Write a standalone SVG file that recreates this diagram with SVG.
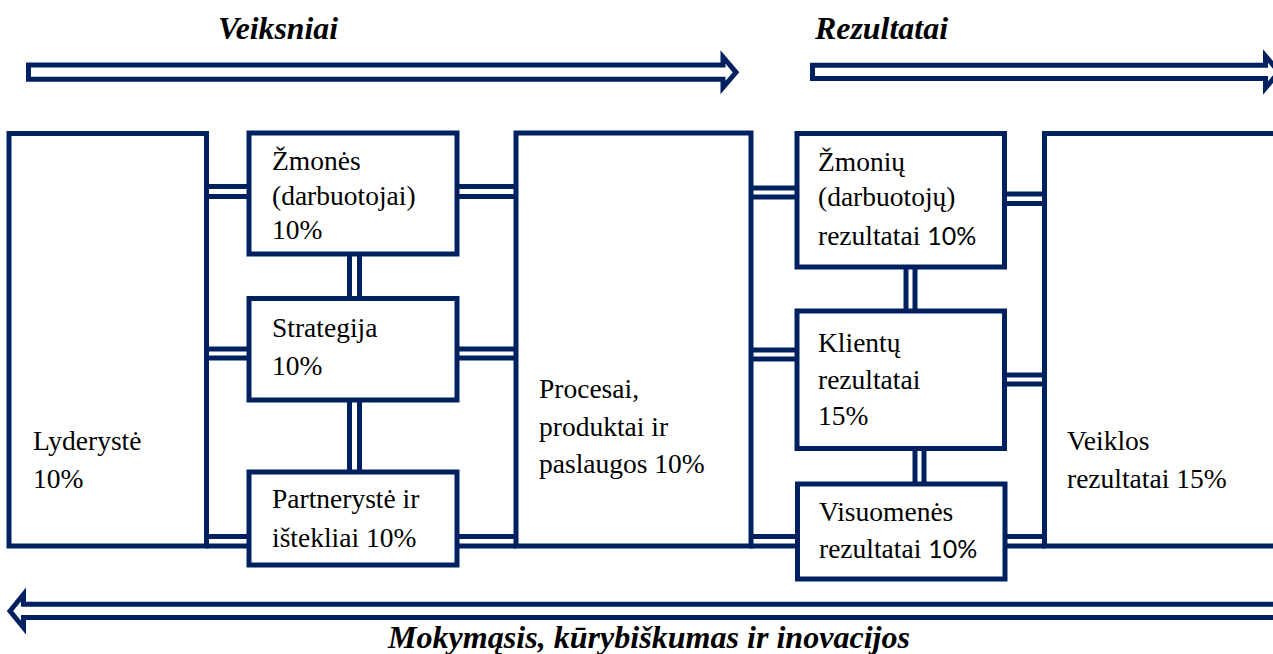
<svg xmlns="http://www.w3.org/2000/svg" width="1273" height="654" viewBox="0 0 1273 654">
<style>
.b{fill:#fff;stroke:#002060;stroke-width:5}
.c{fill:none;stroke:#002060;stroke-width:5}
.a{fill:#fff;stroke:#002060;stroke-width:5;stroke-linejoin:miter;stroke-miterlimit:10}
.t{font-family:"Liberation Serif","Times New Roman",serif;font-size:27.5px;fill:#000}
.h{font-family:"Liberation Serif","Times New Roman",serif;font-size:32px;font-weight:bold;font-style:italic;fill:#000}
.s{font-family:Lato,"Liberation Sans",sans-serif;font-size:25px}
</style>
<rect width="1273" height="654" fill="#fff"/>
<g id="arrows">
<polygon class="a" points="28.5,65 723,65 723,57 736,72.3 723,87.5 723,79.3 28.5,79.3"/>
<polygon class="a" points="812.5,65.2 1265.5,65.2 1265.5,56 1279,72 1265.5,88 1265.5,78.5 812.5,78.5"/>
<polygon class="a" points="10,611 23.5,594.5 23.5,604.2 1290,604.2 1290,617.5 23.5,617.5 23.5,627.5"/>
<text class="h" x="218" y="39" textLength="120" lengthAdjust="spacingAndGlyphs">Veiksniai</text>
<text class="h" x="815" y="39" textLength="133" lengthAdjust="spacingAndGlyphs">Rezultatai</text>
<text class="h" x="388" y="648" textLength="522" lengthAdjust="spacingAndGlyphs">Mokymąsis, kūrybiškumas ir inovacijos</text>
</g>
<g id="connectors">
<path class="c" d="M206,186.5H250M206,196.5H250"/>
<path class="c" d="M456,186.5H517M456,196.5H517"/>
<path class="c" d="M206,349H250M206,358H250"/>
<path class="c" d="M456,349H517M456,358H517"/>
<path class="c" d="M206,536.5H250M206,546H250"/>
<path class="c" d="M456,536.5H517M456,546H517"/>
<path class="c" d="M349.5,254V299M359.5,254V299"/>
<path class="c" d="M349.5,400V472M359.5,400V472"/>
<path class="c" d="M750,188H798M750,197H798"/>
<path class="c" d="M750,350H798M750,359H798"/>
<path class="c" d="M750,536.5H798M750,546H798"/>
<path class="c" d="M1004,194H1045M1004,203.5H1045"/>
<path class="c" d="M1004,375H1045M1004,384H1045"/>
<path class="c" d="M1004,536.5H1045M1004,546H1045"/>
<path class="c" d="M906,267V311M915,267V311"/>
<path class="c" d="M915,448V484M924,448V484"/>
</g>
<g id="lyderyste">
<rect class="b" x="9" y="133.5" width="197.5" height="412.5"/>
<text class="t" x="33" y="450">Lyderystė</text>
<text class="t" x="33" y="488">10%</text>
</g>
<g id="zmones">
<rect class="b" x="249" y="133" width="208" height="121"/>
<text class="t" x="272" y="170">Žmonės</text>
<text class="t" x="272" y="205">(darbuotojai)</text>
<text class="t" x="272" y="239">10%</text>
</g>
<g id="strategija">
<rect class="b" x="249" y="298.5" width="208" height="101.5"/>
<text class="t" x="272" y="337">Strategija</text>
<text class="t" x="272" y="375">10%</text>
</g>
<g id="partneryste">
<rect class="b" x="249" y="472" width="208" height="93"/>
<text class="t" x="272" y="508">Partnerystė ir</text>
<text class="t" x="272" y="547">ištekliai 10%</text>
</g>
<g id="procesai">
<rect class="b" x="516" y="133" width="235" height="413"/>
<text class="t" x="539" y="398">Procesai,</text>
<text class="t" x="539" y="436">produktai ir</text>
<text class="t" x="539" y="473">paslaugos 10%</text>
</g>
<g id="zmoniu">
<rect class="b" x="797" y="133.5" width="207.5" height="133.5"/>
<text class="t" x="818" y="171">Žmonių</text>
<text class="t" x="818" y="206">(darbuotojų)</text>
<text class="t" x="818" y="245">rezultatai <tspan class="s">10%</tspan></text>
</g>
<g id="klientu">
<rect class="b" x="797" y="311" width="207.5" height="137.5"/>
<text class="t" x="818" y="352">Klientų</text>
<text class="t" x="818" y="389">rezultatai</text>
<text class="t" x="818" y="425">15%</text>
</g>
<g id="visuomenes">
<rect class="b" x="797.5" y="484" width="207.5" height="95"/>
<text class="t" x="819" y="521">Visuomenės</text>
<text class="t" x="819" y="558">rezultatai <tspan class="s">10%</tspan></text>
</g>
<g id="veiklos">
<rect class="b" x="1044.5" y="133.5" width="260" height="412.5"/>
<text class="t" x="1067" y="450">Veiklos</text>
<text class="t" x="1067" y="488">rezultatai 15%</text>
</g>
</svg>
